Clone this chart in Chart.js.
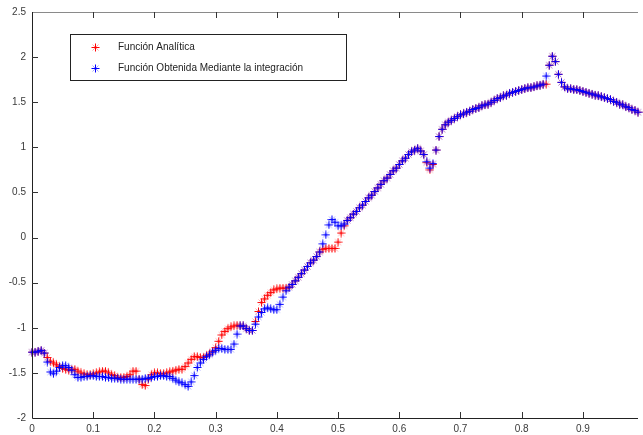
<!DOCTYPE html>
<html>
<head>
<meta charset="utf-8">
<script src="https://cdn.jsdelivr.net/npm/chart.js@4.4.0/dist/chart.umd.min.js"></script>
<style>
  html, body { margin: 0; padding: 0; background: #fff; }
</style>
</head>
<body>
<canvas id="plotChart" width="643" height="435"></canvas>
<script>

// sample spacing on the x axis
var step = 0.005;

var seriesLabels = ["Función Analítica", "Función Obtenida Mediante la integración"];

// Función Analítica (red)
var redValues = [
  -1.27, -1.27, -1.26, -1.25, -1.28, -1.33, -1.37, -1.39, -1.41, -1.43,
  -1.45, -1.46, -1.47, -1.46, -1.46, -1.48, -1.50, -1.51, -1.52, -1.52,
  -1.51, -1.50, -1.49, -1.48, -1.48, -1.50, -1.52, -1.53, -1.55, -1.55,
  -1.55, -1.54, -1.52, -1.48, -1.48, -1.57, -1.63, -1.64, -1.57, -1.52,
  -1.50, -1.50, -1.51, -1.51, -1.50, -1.49, -1.48, -1.47, -1.46, -1.46,
  -1.43, -1.39, -1.35, -1.32, -1.32, -1.33, -1.33, -1.31, -1.29, -1.26,
  -1.22, -1.15, -1.08, -1.04, -1.01, -0.99, -0.98, -0.97, -0.98, -0.98,
  -1.01, -1.03, -1.03, -0.93, -0.82, -0.72, -0.68, -0.64, -0.61, -0.58,
  -0.57, -0.56, -0.56, -0.56, -0.55, -0.52, -0.48, -0.44, -0.40, -0.36,
  -0.32, -0.28, -0.25, -0.21, -0.16, -0.13, -0.12, -0.12, -0.12, -0.12,
  -0.05, 0.05, 0.13, 0.19, 0.22, 0.26, 0.29, 0.33, 0.36, 0.40,
  0.44, 0.47, 0.51, 0.55, 0.59, 0.63, 0.66, 0.70, 0.74, 0.77,
  0.81, 0.85, 0.88, 0.92, 0.95, 0.97, 0.99, 0.96, 0.92, 0.83,
  0.75, 0.81, 0.97, 1.12, 1.20, 1.25, 1.28, 1.30, 1.32, 1.34,
  1.36, 1.37, 1.39, 1.40, 1.42, 1.43, 1.44, 1.46, 1.47, 1.48,
  1.50, 1.52, 1.54, 1.55, 1.57, 1.58, 1.60, 1.61, 1.62, 1.63,
  1.64, 1.65, 1.66, 1.66, 1.67, 1.68, 1.69, 1.70, 1.70, 1.91,
  2.01, 1.95, 1.81, 1.72, 1.67, 1.65, 1.65, 1.64, 1.64, 1.63,
  1.62, 1.61, 1.60, 1.59, 1.58, 1.57, 1.56, 1.55, 1.54, 1.53,
  1.51, 1.50, 1.48, 1.47, 1.45, 1.44, 1.42, 1.41, 1.39
];

// Función Obtenida Mediante la integración (blue)
var blueValues = [
  -1.27, -1.27, -1.26, -1.25, -1.28, -1.38, -1.49, -1.51, -1.48, -1.44,
  -1.42, -1.42, -1.44, -1.47, -1.52, -1.55, -1.55, -1.54, -1.54, -1.53,
  -1.53, -1.54, -1.54, -1.54, -1.55, -1.55, -1.56, -1.56, -1.56, -1.57,
  -1.57, -1.57, -1.57, -1.57, -1.57, -1.57, -1.57, -1.56, -1.56, -1.55,
  -1.54, -1.54, -1.53, -1.53, -1.54, -1.54, -1.56, -1.58, -1.60, -1.61,
  -1.63, -1.65, -1.60, -1.53, -1.44, -1.39, -1.35, -1.32, -1.30, -1.27,
  -1.25, -1.23, -1.23, -1.24, -1.24, -1.24, -1.18, -1.07, -0.98, -0.98,
  -1.01, -1.03, -1.03, -0.96, -0.88, -0.83, -0.79, -0.78, -0.79, -0.80,
  -0.80, -0.74, -0.66, -0.59, -0.55, -0.52, -0.48, -0.44, -0.40, -0.36,
  -0.32, -0.28, -0.25, -0.21, -0.16, -0.07, 0.03, 0.14, 0.20, 0.17,
  0.13, 0.13, 0.15, 0.19, 0.22, 0.26, 0.29, 0.33, 0.36, 0.40,
  0.44, 0.47, 0.51, 0.55, 0.59, 0.63, 0.66, 0.70, 0.74, 0.77,
  0.81, 0.85, 0.88, 0.92, 0.95, 0.97, 0.99, 0.96, 0.92, 0.84,
  0.77, 0.82, 0.97, 1.12, 1.20, 1.25, 1.28, 1.30, 1.32, 1.34,
  1.36, 1.37, 1.39, 1.40, 1.42, 1.43, 1.44, 1.46, 1.47, 1.48,
  1.50, 1.52, 1.54, 1.55, 1.57, 1.58, 1.60, 1.61, 1.62, 1.63,
  1.64, 1.65, 1.66, 1.66, 1.67, 1.68, 1.69, 1.70, 1.79, 1.91,
  2.01, 1.95, 1.81, 1.72, 1.67, 1.65, 1.65, 1.64, 1.64, 1.63,
  1.62, 1.61, 1.60, 1.59, 1.58, 1.57, 1.56, 1.55, 1.54, 1.53,
  1.51, 1.50, 1.48, 1.47, 1.45, 1.44, 1.42, 1.41, 1.39
];

var xTickValues = [0, 0.1, 0.2, 0.3, 0.4, 0.5, 0.6, 0.7, 0.8, 0.9];
var yTickValues = [-2, -1.5, -1, -0.5, 0, 0.5, 1, 1.5, 2, 2.5];

var fontFamily = '"Liberation Sans", Arial, sans-serif';
var labelColor = '#3a3a3a';


function toPoints(values) {
  var pts = [];
  for (var i = 0; i < values.length; i++) {
    pts.push({ x: i * step, y: values[i] });
  }
  return pts;
}

// matlab-like '*' marker: solid plus with faint diagonals
function makeMarker(r, g, b) {
  var c = document.createElement('canvas');
  c.width = 9;
  c.height = 9;
  var m = c.getContext('2d');
  m.strokeStyle = 'rgba(' + r + ',' + g + ',' + b + ',0.35)';
  m.lineWidth = 1;
  m.beginPath();
  m.moveTo(1.5, 1.5); m.lineTo(7.5, 7.5);
  m.moveTo(7.5, 1.5); m.lineTo(1.5, 7.5);
  m.stroke();
  m.strokeStyle = 'rgb(' + r + ',' + g + ',' + b + ')';
  m.beginPath();
  m.moveTo(4.5, 0.5); m.lineTo(4.5, 8.5);
  m.moveTo(0.5, 4.5); m.lineTo(8.5, 4.5);
  m.stroke();
  return c;
}

var redMarker = makeMarker(255, 0, 0);
var blueMarker = makeMarker(0, 0, 255);

// box, top line and inward ticks like the original plot
var framePlugin = {
  id: 'frame',
  afterDraw: function(chart) {
    var ctx = chart.ctx;
    var a = chart.chartArea;
    var xs = chart.scales.x;
    var ys = chart.scales.y;

    ctx.save();
    ctx.lineWidth = 1;

    ctx.strokeStyle = '#8a8a8a';
    ctx.beginPath();
    ctx.moveTo(a.left, a.top + 0.5);
    ctx.lineTo(a.right, a.top + 0.5);
    ctx.stroke();

    ctx.strokeStyle = '#222';
    ctx.beginPath();
    ctx.moveTo(a.left + 0.5, a.top);
    ctx.lineTo(a.left + 0.5, a.bottom + 0.5);
    ctx.lineTo(a.right, a.bottom + 0.5);
    ctx.stroke();

    ctx.strokeStyle = '#333';
    ctx.beginPath();
    for (var i = 1; i < xTickValues.length; i++) {
      var px = Math.round(xs.getPixelForValue(xTickValues[i])) + 0.5;
      ctx.moveTo(px, a.bottom);
      ctx.lineTo(px, a.bottom - 6);
      ctx.moveTo(px, a.top);
      ctx.lineTo(px, a.top + 6);
    }
    for (var j = 1; j < yTickValues.length - 1; j++) {
      var py = Math.round(ys.getPixelForValue(yTickValues[j])) + 0.5;
      ctx.moveTo(a.left, py);
      ctx.lineTo(a.left + 6, py);
    }
    ctx.stroke();
    ctx.restore();
  }
};

var legendPlugin = {
  id: 'boxLegend',
  afterDraw: function(chart) {
    var ctx = chart.ctx;
    var markers = [redMarker, blueMarker];
    var bx = 70.5, by = 34.5, bw = 276, bh = 46;

    ctx.save();
    ctx.fillStyle = '#fff';
    ctx.fillRect(bx, by, bw, bh);
    ctx.strokeStyle = '#222';
    ctx.lineWidth = 1;
    ctx.strokeRect(bx, by, bw, bh);

    ctx.font = '10px ' + fontFamily;
    ctx.textBaseline = 'middle';
    ctx.textAlign = 'left';
    for (var i = 0; i < seriesLabels.length; i++) {
      var ly = 47 + i * 21;
      ctx.drawImage(markers[i], 91, ly - 4);
      ctx.fillStyle = '#222';
      ctx.fillText(seriesLabels[i], 118, ly);
    }
    ctx.restore();
  }
};


function printPlot() {

  var ctx = document.getElementById('plotChart').getContext('2d');
  var chart = new Chart(ctx, {

    type: 'scatter',

    data: {
      datasets: [{
        label: seriesLabels[0],
        data: toPoints(redValues),
        pointStyle: redMarker,
        pointRadius: 4,
        showLine: false,
        clip: false,
        order: 1
      }, {
        label: seriesLabels[1],
        data: toPoints(blueValues),
        pointStyle: blueMarker,
        pointRadius: 4,
        showLine: false,
        clip: false,
        order: 0
      }]
    },

    options: {
      responsive: false,
      animation: false,
      events: [],
      layout: { padding: { top: 12, right: 0, left: 0, bottom: 0 } },
      plugins: {
        legend: { display: false },
        tooltip: { enabled: false }
      },
      scales: {
        x: {
          type: 'linear',
          min: 0,
          max: 0.99,
          grid: { display: false, drawTicks: false },
          border: { display: false },
          ticks: {
            padding: 5,
            autoSkip: false,
            maxRotation: 0,
            color: labelColor,
            font: { family: fontFamily, size: 10 },
            callback: function(v) { return String(v); }
          },
          afterBuildTicks: function(s) {
            s.ticks = xTickValues.map(function(v) { return { value: v }; });
          },
          afterFit: function(s) { s.height = 17; }
        },
        y: {
          type: 'linear',
          min: -2,
          max: 2.5,
          grid: { display: false, drawTicks: false },
          border: { display: false },
          ticks: {
            padding: 6,
            autoSkip: false,
            color: labelColor,
            font: { family: fontFamily, size: 10 },
            callback: function(v) { return String(v); }
          },
          afterBuildTicks: function(s) {
            s.ticks = yTickValues.map(function(v) { return { value: v }; });
          },
          afterFit: function(s) { s.width = 32; }
        }
      }
    },

    plugins: [framePlugin, legendPlugin]
  });
}

printPlot();

</script>
</body>
</html>
